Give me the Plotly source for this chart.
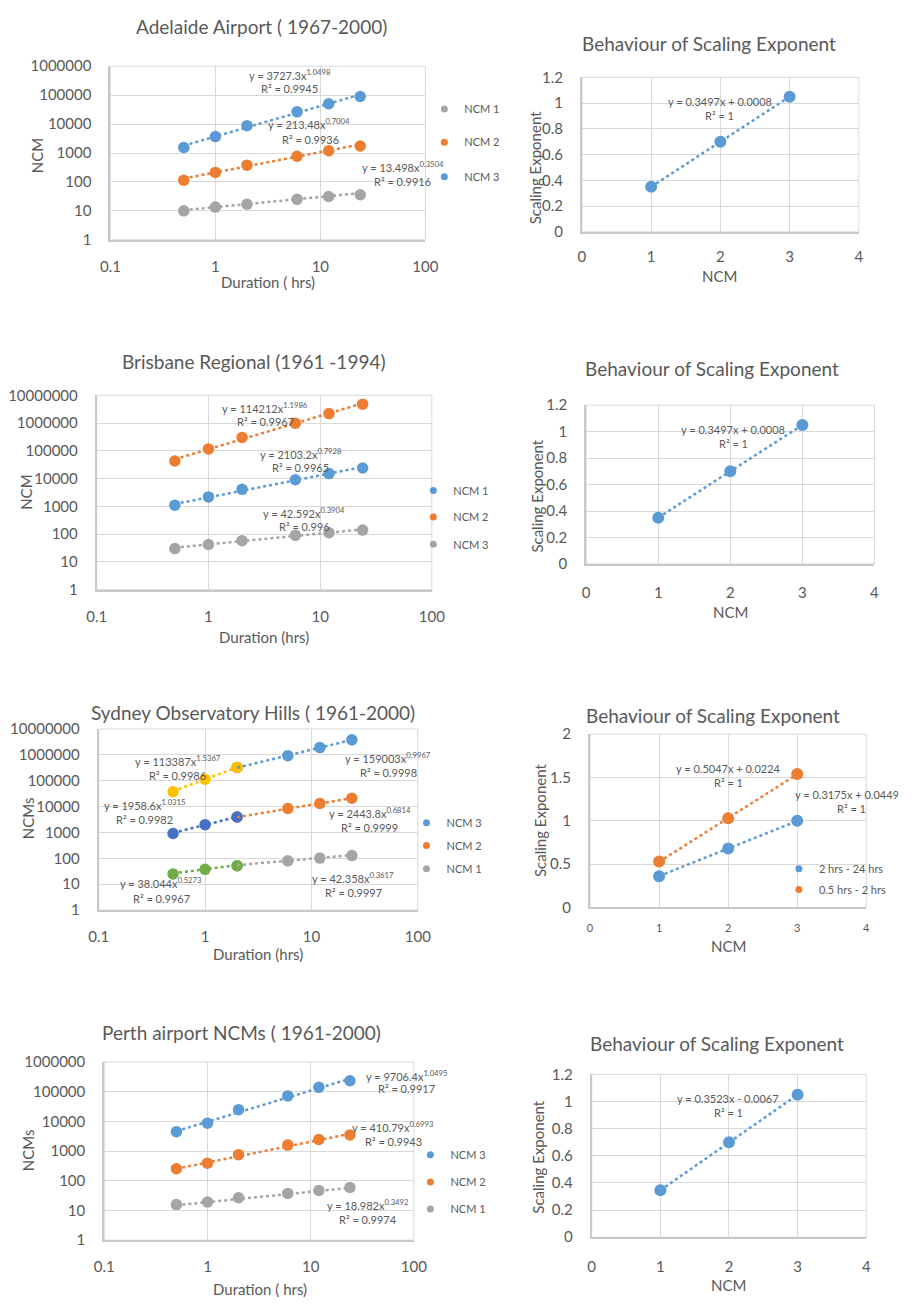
import plotly.graph_objects as go

W, H = 916, 1305
FONT = "Lato"
TXT = "#595959"
GRID = "#D9D9D9"
AXLINE = "#C8C8C8"

BLUE = "#5B9BD5"
ORANGE = "#ED7D31"
GRAY = "#A5A5A5"
YELLOW = "#FFC000"
DBLUE = "#4472C4"
GREEN = "#70AD47"

# ---------------- data ----------------
durations = [0.5, 1, 2, 6, 12, 24]
dur_short = [0.5, 1, 2]
dur_long = [2, 6, 12, 24]
ncm_index = [1, 2, 3]

dur_tickvals = [0.1, 1, 10, 100]
dur_ticktext = ["0.1", "1", "10", "100"]
ncm_tickvals_6 = [1, 10, 100, 1000, 10000, 100000, 1000000]
ncm_ticktext_6 = ["1", "10", "100", "1000", "10000", "100000", "1000000"]
ncm_tickvals_7 = [1, 10, 100, 1000, 10000, 100000, 1000000, 10000000]
ncm_ticktext_7 = ["1", "10", "100", "1000", "10000", "100000", "1000000", "10000000"]

# Adelaide Airport (1967-2000)
adl_ncm1 = [10, 13.5, 17, 25, 31.5, 36]
adl_ncm2 = [114, 213, 380, 770, 1200, 1740]
adl_ncm3 = [1560, 3700, 8800, 26500, 50500, 90000]
adl_fit_a = [13.498, 213.48, 3727.3]
adl_fit_b = [0.3504, 0.7004, 1.0498]
adl_r2 = ["0.9916", "0.9936", "0.9945"]

# Brisbane Regional (1961-1994)
bri_ncm1 = [1100, 2190, 4100, 9100, 15100, 24000]
bri_ncm2 = [43000, 117000, 305000, 985000, 2200000, 4800000]
bri_ncm3 = [30, 42, 58, 90, 112, 139]
bri_fit_a = [2103.2, 114212, 42.592]
bri_fit_b = [0.7928, 1.1986, 0.3904]
bri_r2 = ["0.9965", "0.9967", "0.996"]

# Sydney Observatory Hills (1961-2000): 0.5-2 hrs and 2-24 hrs
syd_ncm3_short = [37300, 114000, 327000]
syd_ncm3_long = [327000, 930000, 1900000, 3800000]
syd_ncm2_short = [915, 2000, 3960]
syd_ncm2_long = [3960, 8400, 13100, 21000]
syd_ncm1_short = [25, 37.6, 52]
syd_ncm1_long = [52, 80, 102, 128]
syd_fit_a_short = [38.044, 1958.6, 113387]
syd_fit_b_short = [0.5273, 1.0315, 1.5367]
syd_r2_short = ["0.9967", "0.9982", "0.9986"]
syd_fit_a_long = [42.358, 2443.8, 159003]
syd_fit_b_long = [0.3617, 0.6814, 0.9967]
syd_r2_long = ["0.9997", "0.9999", "0.9998"]

# Perth airport (1961-2000)
per_ncm1 = [15.7, 19.2, 26.8, 37.3, 47, 59]
per_ncm2 = [252, 390, 757, 1590, 2450, 3500]
per_ncm3 = [4500, 8700, 24800, 72000, 140000, 234000]
per_fit_a = [18.982, 410.79, 9706.4]
per_fit_b = [0.3492, 0.6993, 1.0495]
per_r2 = ["0.9974", "0.9943", "0.9917"]

# Scaling exponents (as plotted)
adl_exp = [0.35, 0.70, 1.05]
adl_lin = [0.3497, 0.0008]
bri_exp = [0.35, 0.70, 1.05]
bri_lin = [0.3497, 0.0008]
syd_exp_short = [0.53, 1.03, 1.54]
syd_lin_short = [0.5047, 0.0224]
syd_exp_long = [0.36, 0.68, 1.00]
syd_lin_long = [0.3175, 0.0449]
per_exp = [0.345, 0.70, 1.05]
per_lin = [0.3523, -0.0067]

# ---------------- helpers ----------------
def PX(px):
    return px / W


def PY(py):
    return 1 - py / H


fig = go.Figure()
annotations = []
shapes = []
legend_layouts = {}
legend_counter = [0]

TITLE_FS = 19
TICK_FS = 15
AXT_FS = 15
LBL_FS = 11
LOG_MS = 11.5
LIN_MS = 12


def ax_name(i, kind):
    return kind if i == 1 else f"{kind}{i}"


def add_axes(i, box, xlog, ylog, xr, yr, xtv=None, xtt=None, ytv=None, ytt=None,
             xdtick=None, ydtick=None, xstand=12, ystand=14, xfs=TICK_FS, yfs=TICK_FS):
    x0, y0, x1, y1 = box
    xa = dict(domain=[PX(x0), PX(x1)], range=xr, anchor=ax_name(i, "y"),
              showgrid=True, gridcolor=GRID, gridwidth=1,
              showline=True, linecolor=AXLINE, linewidth=2,
              zeroline=False, ticks="", ticklabelstandoff=xstand,
              tickfont=dict(family=FONT, size=xfs, color=TXT), fixedrange=True)
    ya = dict(domain=[PY(y1), PY(y0)], range=yr, anchor=ax_name(i, "x"),
              showgrid=True, gridcolor=GRID, gridwidth=1,
              showline=True, linecolor=AXLINE, linewidth=2,
              zeroline=False, ticks="", ticklabelstandoff=ystand,
              tickfont=dict(family=FONT, size=yfs, color=TXT), fixedrange=True)
    if xlog:
        xa.update(type="log", tickmode="array", tickvals=xtv, ticktext=xtt)
    else:
        xa.update(tickmode="linear", tick0=0, dtick=xdtick)
    if ylog:
        ya.update(type="log", tickmode="array", tickvals=ytv, ticktext=ytt)
    else:
        ya.update(tickmode="linear", tick0=0, dtick=ydtick)
    fig.layout[ax_name(i, "xaxis")] = xa
    fig.layout[ax_name(i, "yaxis")] = ya
    shapes.append(dict(type="rect", xref=f"{ax_name(i, 'x')} domain",
                       yref=f"{ax_name(i, 'y')} domain", x0=0, x1=1, y0=0, y1=1,
                       line=dict(color=GRID, width=1), layer="below"))


def text(px, py, s, size=LBL_FS, xanchor="center"):
    annotations.append(dict(x=PX(px), y=PY(py), xref="paper", yref="paper",
                            text=s, showarrow=False, xanchor=xanchor, yanchor="middle",
                            font=dict(family=FONT, size=size, color=TXT)))


def vtext(px, py, s, size=AXT_FS):
    annotations.append(dict(x=PX(px), y=PY(py), xref="paper", yref="paper",
                            text=s, showarrow=False, textangle=-90,
                            xanchor="center", yanchor="middle",
                            font=dict(family=FONT, size=size, color=TXT)))


def markers(i, xs, ys, color, name, size=LOG_MS):
    fig.add_trace(go.Scatter(x=xs, y=ys, mode="markers", name=name,
                             marker=dict(color=color, size=size, line=dict(width=0)),
                             xaxis=ax_name(i, "x"), yaxis=ax_name(i, "y"),
                             showlegend=False, hoverinfo="x+y"))


def power_trend(i, xs, a, b, color):
    ys = [a * x ** b for x in xs]
    fig.add_trace(go.Scatter(x=xs, y=ys, mode="lines",
                             line=dict(color=color, width=2.5, dash="dot"),
                             xaxis=ax_name(i, "x"), yaxis=ax_name(i, "y"),
                             showlegend=False, hoverinfo="skip"))


def linear_trend(i, xs, m, c, color):
    ys = [m * x + c for x in xs]
    fig.add_trace(go.Scatter(x=xs, y=ys, mode="lines",
                             line=dict(color=color, width=2.5, dash="dot"),
                             xaxis=ax_name(i, "x"), yaxis=ax_name(i, "y"),
                             showlegend=False, hoverinfo="skip"))


def legend_item(mx, my, color, label):
    legend_counter[0] += 1
    k = legend_counter[0]
    lname = "legend" if k == 1 else f"legend{k}"
    fig.add_trace(go.Scatter(x=[None], y=[None], mode="markers", name=label,
                             marker=dict(color=color, size=7), legend=lname,
                             showlegend=True, hoverinfo="skip"))
    legend_layouts[lname] = dict(x=PX(mx - 22), y=PY(my), xanchor="left", yanchor="middle",
                                 bgcolor="rgba(0,0,0,0)", borderwidth=0, itemwidth=30,
                                 font=dict(family=FONT, size=11, color=TXT),
                                 itemclick=False, itemdoubleclick=False)


# ---------------- Panel 1: Adelaide ----------------
add_axes(1, (103, 57, 426, 233), True, True, [-1, 2], [0, 6],
         dur_tickvals, dur_ticktext, ncm_tickvals_6, ncm_ticktext_6)
for ys, col, nm in [(adl_ncm1, GRAY, "NCM 1"), (adl_ncm2, ORANGE, "NCM 2"), (adl_ncm3, BLUE, "NCM 3")]:
    markers(1, durations, ys, col, nm)
for a, b, col in zip(adl_fit_a, adl_fit_b, [GRAY, ORANGE, BLUE]):
    power_trend(1, durations, a, b, col)
text(258, 17, "Adelaide Airport ( 1967-2000)", TITLE_FS)
text(265, 276, "Duration ( hrs)", AXT_FS)
vtext(28, 148, "NCM")
text(287, 65, f"y = {adl_fit_a[2]}x<sup>{adl_fit_b[2]}</sup>")
text(287, 80, f"R² = {adl_r2[2]}")
text(307, 115, f"y = {adl_fit_a[1]}x<sup>{adl_fit_b[1]}</sup>")
text(308, 131, f"R² = {adl_r2[1]}")
text(403, 159, f"y = {adl_fit_a[0]}x<sup>{adl_fit_b[0]}</sup>")
text(403, 174, f"R² = {adl_r2[0]}")
legend_item(447, 100.5, GRAY, "NCM 1")
legend_item(447, 134, ORANGE, "NCM 2")
legend_item(447, 169, BLUE, "NCM 3")

# ---------------- Panel 2: Adelaide scaling ----------------
add_axes(2, (586.7, 68.3, 870.7, 225), False, False, [0, 4], [0, 1.2],
         xdtick=1, ydtick=0.2, xstand=10)
markers(2, ncm_index, adl_exp, BLUE, "Scaling exponent", LIN_MS)
linear_trend(2, ncm_index, adl_lin[0], adl_lin[1], BLUE)
text(717, 34, "Behaviour of Scaling Exponent", TITLE_FS)
text(728, 270, "NCM", AXT_FS)
vtext(538, 160, "Scaling Exponent")
text(728, 92.7, f"y = {adl_lin[0]}x + {adl_lin[1]:.4f}")
text(728, 107, "R² = 1")

# ---------------- Panel 3: Brisbane ----------------
add_axes(3, (89, 390.7, 432.7, 587.7), True, True, [-1, 2], [0, 7],
         dur_tickvals, dur_ticktext, ncm_tickvals_7, ncm_ticktext_7)
for ys, col, nm in [(bri_ncm1, BLUE, "NCM 1"), (bri_ncm2, ORANGE, "NCM 2"), (bri_ncm3, GRAY, "NCM 3")]:
    markers(3, durations, ys, col, nm)
for a, b, col in zip(bri_fit_a, bri_fit_b, [BLUE, ORANGE, GRAY]):
    power_trend(3, durations, a, b, col)
text(250, 356.7, "Brisbane Regional (1961 -1994)", TITLE_FS)
text(261, 636, "Duration (hrs)", AXT_FS)
vtext(17, 489, "NCM")
text(262, 402.7, f"y = {bri_fit_a[1]}x<sup>{bri_fit_b[1]}</sup>")
text(262, 417.3, f"R² = {bri_r2[1]}")
text(298, 450, f"y = {bri_fit_a[0]}x<sup>{bri_fit_b[0]}</sup>")
text(298, 464.3, f"R² = {bri_r2[0]}")
text(302, 509.3, f"y = {bri_fit_a[2]}x<sup>{bri_fit_b[2]}</sup>")
text(302, 524, f"R² = {bri_r2[2]}")
legend_item(435.7, 487.3, BLUE, "NCM 1")
legend_item(435.7, 514, ORANGE, "NCM 2")
legend_item(435.7, 541.7, GRAY, "NCM 3")

# ---------------- Panel 4: Brisbane scaling ----------------
add_axes(4, (591, 400.7, 886.7, 561.7), False, False, [0, 4], [0, 1.2],
         xdtick=1, ydtick=0.2, xstand=14)
markers(4, ncm_index, bri_exp, BLUE, "Scaling exponent", LIN_MS)
linear_trend(4, ncm_index, bri_lin[0], bri_lin[1], BLUE)
text(720, 364, "Behaviour of Scaling Exponent", TITLE_FS)
text(739, 610, "NCM", AXT_FS)
vtext(541, 493, "Scaling Exponent")
text(742, 425, f"y = {bri_lin[0]}x + {bri_lin[1]:.4f}")
text(742, 439.3, "R² = 1")

# ---------------- Panel 5: Sydney ----------------
add_axes(5, (91, 729, 418.3, 912.7), True, True, [-1, 2], [0, 7],
         dur_tickvals, dur_ticktext, ncm_tickvals_7, ncm_ticktext_7)
for ys, col, nm in [(syd_ncm3_long, BLUE, "NCM 3"), (syd_ncm2_long, ORANGE, "NCM 2"), (syd_ncm1_long, GRAY, "NCM 1")]:
    markers(5, dur_long, ys, col, nm)
for ys, col, nm in [(syd_ncm3_short, YELLOW, "NCM 3 (0.5-2 hrs)"), (syd_ncm2_short, DBLUE, "NCM 2 (0.5-2 hrs)"),
                    (syd_ncm1_short, GREEN, "NCM 1 (0.5-2 hrs)")]:
    markers(5, dur_short, ys, col, nm)
for a, b, col in zip(syd_fit_a_short, syd_fit_b_short, [GREEN, DBLUE, YELLOW]):
    power_trend(5, dur_short, a, b, col)
for a, b, col in zip(syd_fit_a_long, syd_fit_b_long, [GRAY, ORANGE, BLUE]):
    power_trend(5, dur_long, a, b, col)
text(249, 712.3, "Sydney Observatory Hills ( 1961-2000)", TITLE_FS)
text(254, 957.7, "Duration (hrs)", AXT_FS)
vtext(18, 820, "NCMs")
text(172, 761, f"y = {syd_fit_a_short[2]}x<sup>{syd_fit_b_short[2]}</sup>")
text(172, 776, f"R² = {syd_r2_short[2]}")
text(388, 758.3, f"y = {syd_fit_a_long[2]}x<sup>{syd_fit_b_long[2]}</sup>")
text(388, 773, f"R² = {syd_r2_long[2]}")
text(138, 806, f"y = {syd_fit_a_short[1]}x<sup>{syd_fit_b_short[1]}</sup>")
text(138, 821, f"R² = {syd_r2_short[1]}")
text(369, 814, f"y = {syd_fit_a_long[1]}x<sup>{syd_fit_b_long[1]}</sup>")
text(369, 829, f"R² = {syd_r2_long[1]}")
text(155, 885, f"y = {syd_fit_a_short[0]}x<sup>{syd_fit_b_short[0]}</sup>")
text(155, 901, f"R² = {syd_r2_short[0]}")
text(352, 880, f"y = {syd_fit_a_long[0]}x<sup>{syd_fit_b_long[0]}</sup>")
text(352, 895, f"R² = {syd_r2_long[0]}")
legend_item(428.7, 824, BLUE, "NCM 3")
legend_item(428.7, 847.3, ORANGE, "NCM 2")
legend_item(428.7, 870.7, GRAY, "NCM 1")

# ---------------- Panel 6: Sydney scaling ----------------
add_axes(6, (595, 734.3, 878.3, 910), False, False, [0, 4], [0, 2],
         xdtick=1, ydtick=0.5, xstand=9, xfs=11)
markers(6, ncm_index, syd_exp_short, ORANGE, "0.5 hrs - 2 hrs", LIN_MS)
markers(6, ncm_index, syd_exp_long, BLUE, "2 hrs - 24 hrs", LIN_MS)
linear_trend(6, ncm_index, syd_lin_short[0], syd_lin_short[1], ORANGE)
linear_trend(6, ncm_index, syd_lin_long[0], syd_lin_long[1], BLUE)
text(721, 715, "Behaviour of Scaling Exponent", TITLE_FS)
text(737, 949.3, "NCM", AXT_FS)
vtext(543, 822, "Scaling Exponent")
text(737, 769, f"y = {syd_lin_short[0]}x + {syd_lin_short[1]:.4f}")
text(737, 783.3, "R² = 1")
text(859, 795, f"y = {syd_lin_long[0]}x + {syd_lin_long[1]:.4f}")
text(863, 810, "R² = 1")
legend_item(810.7, 870.7, BLUE, "2 hrs - 24 hrs")
legend_item(810.7, 891.7, ORANGE, "0.5 hrs - 2 hrs")

# ---------------- Panel 7: Perth ----------------
add_axes(7, (96.7, 1066.7, 414.3, 1247.3), True, True, [-1, 2], [0, 6],
         dur_tickvals, dur_ticktext, ncm_tickvals_6, ncm_ticktext_6)
for ys, col, nm in [(per_ncm3, BLUE, "NCM 3"), (per_ncm2, ORANGE, "NCM 2"), (per_ncm1, GRAY, "NCM 1")]:
    markers(7, durations, ys, col, nm)
for a, b, col in zip(per_fit_a, per_fit_b, [GRAY, ORANGE, BLUE]):
    power_trend(7, durations, a, b, col)
text(237, 1036.7, "Perth airport NCMs ( 1961-2000)", TITLE_FS)
text(256, 1296.7, "Duration ( hrs)", AXT_FS)
vtext(18, 1156.7, "NCMs")
text(407, 1080, f"y = {per_fit_a[2]}x<sup>{per_fit_b[2]}</sup>")
text(407, 1094, f"R² = {per_r2[2]}")
text(393, 1132.3, f"y = {per_fit_a[1]}x<sup>{per_fit_b[1]}</sup>")
text(393, 1147.3, f"R² = {per_r2[1]}")
text(367, 1211.7, f"y = {per_fit_a[0]}x<sup>{per_fit_b[0]}</sup>")
text(367, 1226.7, f"R² = {per_r2[0]}")
legend_item(432.7, 1160.7, BLUE, "NCM 3")
legend_item(432.7, 1188.3, ORANGE, "NCM 2")
legend_item(432.7, 1215.7, GRAY, "NCM 1")

# ---------------- Panel 8: Perth scaling ----------------
add_axes(8, (596.7, 1079.3, 878.3, 1244.3), False, False, [0, 4], [0, 1.2],
         xdtick=1, ydtick=0.2, xstand=15)
markers(8, ncm_index, per_exp, BLUE, "Scaling exponent", LIN_MS)
linear_trend(8, ncm_index, per_lin[0], per_lin[1], BLUE)
text(725, 1048.3, "Behaviour of Scaling Exponent", TITLE_FS)
text(737, 1293.3, "NCM", AXT_FS)
vtext(542, 1163.3, "Scaling Exponent")
text(737, 1103.3, f"y = {per_lin[0]}x - {abs(per_lin[1]):.4f}")
text(737, 1118.3, "R² = 1")

fig.update_layout(
    width=W, height=H, autosize=False,
    margin=dict(l=0, r=0, t=0, b=0, pad=0),
    paper_bgcolor="white", plot_bgcolor="white",
    font=dict(family=FONT, color=TXT),
    annotations=annotations, shapes=shapes,
    showlegend=True,
)
fig.update_layout(**legend_layouts)

post = (
    "document.documentElement.style.margin='0';"
    "document.body.style.margin='0';document.body.style.padding='0';"
    "document.body.style.overflow='hidden';"
    "var gd=document.getElementById('{plot_id}');"
    "gd.style.width='916px';gd.style.height='1305px';"
    "if(gd.parentElement){gd.parentElement.style.margin='0';gd.parentElement.style.padding='0';}"
    "Plotly.relayout(gd,{width:916,height:1305,autosize:false});"
)

fig.write_html("out.html", config={"displayModeBar": False, "responsive": False},
               post_script=post)
